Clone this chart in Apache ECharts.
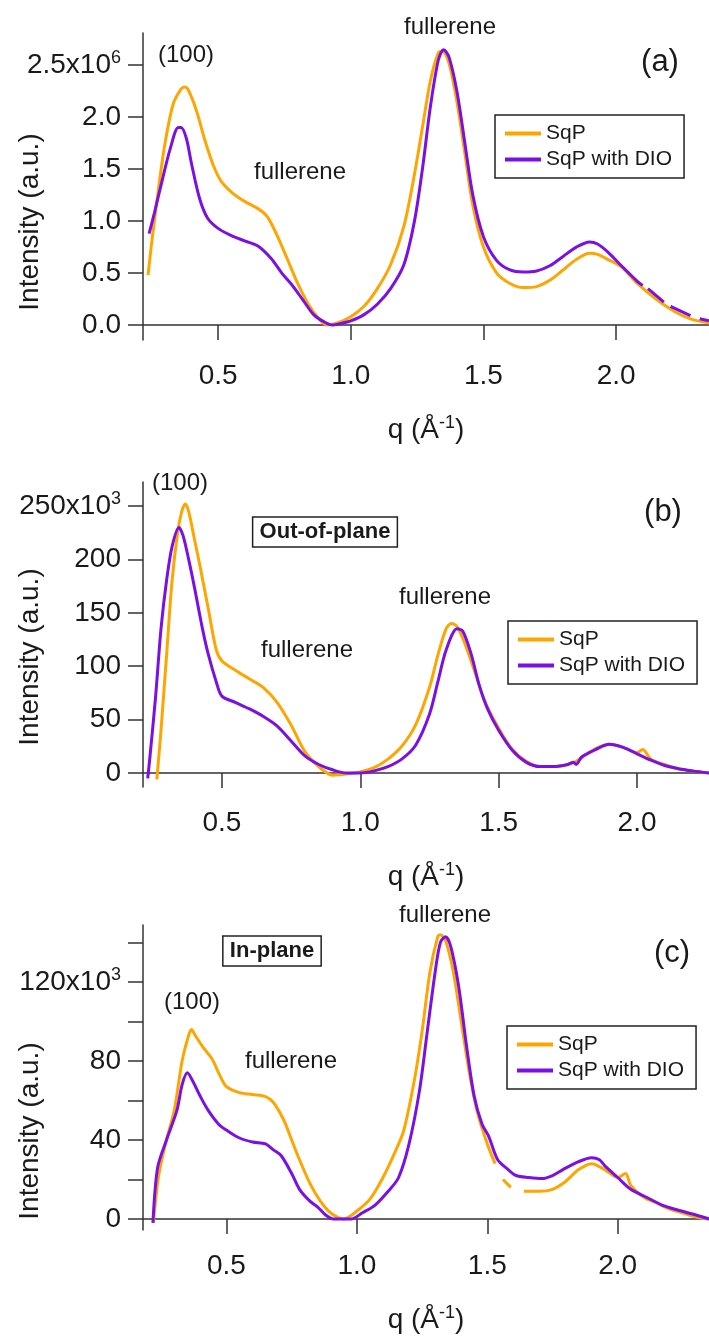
<!DOCTYPE html>
<html>
<head>
<meta charset="utf-8">
<script src="https://cdn.jsdelivr.net/npm/echarts@6/dist/echarts.min.js"></script>
<style>html,body{margin:0;padding:0;background:#fff}#c{width:709px;height:1336px}</style>
</head>
<body>
<div id="c"></div>
<script>
// ---------- DATA ----------
const seriesNames = ['SqP', 'SqP with DIO'];
const xTicks = [0.5, 1.0, 1.5, 2.0];

// Panel (a)  intensity in 10^6 (null = gap in the measured trace)
const qA_sqp = [0.236,0.25,0.28,0.30,0.33,0.36,0.375,0.39,0.42,0.45,0.48,0.51,0.55,0.60,0.65,0.68,0.70,0.73,0.76,0.80,0.84,0.88,0.91,0.95,1.00,1.05,1.10,1.15,1.20,1.24,1.27,1.30,1.33,1.345,1.37,1.40,1.43,1.46,1.50,1.55,1.60,1.65,1.70,1.75,1.80,1.85,1.90,1.93,1.97,2.02,2.08,2.15,2.22,2.28,2.35];
const iA_sqp = [0.48,0.80,1.40,1.75,2.12,2.27,2.29,2.25,2.05,1.78,1.55,1.39,1.28,1.19,1.12,1.06,0.98,0.82,0.64,0.40,0.20,0.06,0.00,0.02,0.08,0.18,0.35,0.58,0.95,1.45,1.90,2.35,2.62,2.64,2.52,2.15,1.65,1.15,0.75,0.50,0.40,0.36,0.37,0.43,0.53,0.63,0.69,0.68,0.63,0.56,0.40,0.25,0.13,0.06,0.02];
const qA_dio = [0.24,0.26,0.29,0.32,0.35,0.36,0.38,0.40,0.43,0.46,0.50,0.55,0.60,0.65,0.70,0.74,0.78,0.82,0.86,0.90,0.93,0.97,1.00,1.05,1.10,1.15,1.20,1.24,1.27,1.30,1.33,1.35,1.37,1.40,1.43,1.46,1.50,1.55,1.60,1.65,1.70,1.75,1.80,1.85,1.90,1.93,1.97,2.02,2.08,2.10,2.105,2.12,2.18,2.19,2.205,2.28,2.295,2.315,2.35];
const iA_dio = [0.88,1.08,1.40,1.70,1.90,1.90,1.80,1.55,1.22,1.03,0.93,0.86,0.81,0.76,0.64,0.50,0.38,0.24,0.10,0.03,0.00,0.02,0.04,0.10,0.20,0.35,0.58,1.00,1.50,2.10,2.55,2.65,2.58,2.25,1.75,1.25,0.85,0.62,0.53,0.51,0.52,0.57,0.66,0.75,0.80,0.78,0.70,0.57,0.42,0.38,null,0.35,0.22,null,0.18,0.09,null,0.06,0.04];
const yTicksA = [0, 0.5, 1.0, 1.5, 2.0, 2.5];

// Panel (b) Out-of-plane, intensity in 10^3
const qB_sqp = [0.265,0.28,0.30,0.32,0.34,0.355,0.368,0.38,0.40,0.42,0.45,0.48,0.50,0.55,0.60,0.65,0.70,0.75,0.80,0.85,0.90,0.95,1.00,1.05,1.10,1.15,1.20,1.25,1.28,1.31,1.33,1.35,1.38,1.42,1.45,1.50,1.55,1.60,1.65,1.70,1.75,1.78,1.82,1.86,1.90,1.95,2.00,2.02,2.05,2.10,2.15,2.20,2.26];
const iB_sqp = [-6,40,110,180,225,245,252,245,220,195,155,115,105,96,88,80,66,45,20,6,-2,-1,1,5,13,25,45,80,110,135,140,137,120,90,67,42,22,11,6,6,8,11,18,24,27,24,19,22,13,8,4,2,0];
const qB_dio = [0.232,0.24,0.26,0.28,0.30,0.32,0.345,0.36,0.38,0.40,0.43,0.45,0.48,0.50,0.55,0.60,0.65,0.70,0.75,0.80,0.85,0.90,0.95,1.00,1.05,1.10,1.15,1.20,1.25,1.28,1.31,1.35,1.37,1.40,1.43,1.46,1.50,1.55,1.60,1.65,1.70,1.75,1.77,1.78,1.80,1.85,1.90,1.95,2.00,2.05,2.10,2.15,2.20,2.26];
const iB_dio = [-5,15,70,135,180,212,230,222,200,175,135,112,85,72,66,60,53,44,30,16,8,3,0,0,2,6,13,26,55,85,115,135,133,112,82,60,40,21,10,6,6,8,10,8,15,22,27,24,18,12,7,4,2,0];
const yTicksB = [0, 50, 100, 150, 200, 250];

// Panel (c) In-plane, intensity in 10^3 (null = gap in the measured trace)
const qC_sqp = [0.22,0.24,0.27,0.30,0.33,0.355,0.366,0.38,0.41,0.445,0.47,0.50,0.55,0.60,0.65,0.68,0.72,0.75,0.78,0.82,0.86,0.90,0.95,1.00,1.05,1.10,1.15,1.18,1.22,1.25,1.28,1.31,1.32,1.34,1.37,1.40,1.43,1.46,1.50,1.53,1.545,1.56,1.59,1.615,1.64,1.70,1.75,1.80,1.85,1.90,1.95,2.00,2.03,2.05,2.10,2.15,2.20,2.25,2.30,2.35];
const iC_sqp = [-2,22,40,55,80,93,96,93,87,81,74,67,64,63,62,59,50,40,30,18,9,3,0,4,10,21,35,45,70,95,125,143,144,141,125,100,75,55,38,28,null,20,16,null,14,14,15,19,25,28,25,21,23,17,11,8,5,3,1,0];
const qC_dio = [0.218,0.236,0.27,0.31,0.33,0.35,0.37,0.40,0.43,0.47,0.50,0.55,0.60,0.65,0.68,0.71,0.75,0.78,0.82,0.85,0.88,0.91,0.95,0.98,1.02,1.07,1.12,1.16,1.20,1.24,1.27,1.30,1.32,1.34,1.36,1.39,1.42,1.45,1.48,1.505,1.54,1.58,1.61,1.66,1.71,1.75,1.79,1.85,1.90,1.93,1.95,2.00,2.05,2.11,2.17,2.23,2.30,2.35];
const iC_dio = [-2,26,40,55,68,74,70,62,55,48,45,41,39,38,35,32,23,15,9,6,2,0,0,0,3,7,14,21,38,65,95,125,140,143,138,118,88,62,48,42,30,25,22,21,20.5,22,25,29,31,30,27,21,15,11,7,4.5,2,0];
const yTicksC = [0, 20, 40, 60, 80, 100, 120, 140];
const yLabelsC = [0, 40, 80, 120];

// ---------- CHART ----------
const FONT = '"Liberation Sans", Arial, Helvetica, sans-serif';
const TXT = '#1a1a1a';
const AX = '#333';
const ORANGE = '#FFA500';
const PURPLE = '#7A10E6';
const pairs = (q, v) => q.map((x, i) => [x, v[i]]);

const grids = [
  {left: 143, top: 33, width: 566, height: 307},
  {left: 143, top: 482, width: 566, height: 305},
  {left: 143, top: 925, width: 566, height: 305}
];
const xRanges = [[0.217, 2.35], [0.215, 2.26], [0.18, 2.35]];
const yRanges = [[-0.144, 2.81], [-13.1, 272.5], [-5.6, 148.9]];
const supRich = {sup: {fontSize: 18, fontFamily: FONT, color: TXT, padding: [0, 0, 14, 0]}};

const xAxes = grids.map((g, i) => ({
  type: 'value', gridIndex: i, min: xRanges[i][0], max: xRanges[i][1],
  splitLine: {show: false},
  axisLine: {lineStyle: {color: AX, width: 1.5}},
  axisTick: {length: 15, customValues: xTicks, lineStyle: {color: AX, width: 1.5}},
  axisLabel: {customValues: xTicks, formatter: v => v.toFixed(1), fontSize: 28, fontFamily: FONT, color: TXT, margin: 22},
  name: 'q (Å{sup|-1})', nameLocation: 'middle', nameGap: 74,
  nameTextStyle: {fontSize: 28, fontFamily: FONT, color: TXT, rich: supRich}
}));

const yCommon = (i, ticks, labels, fmt) => ({
  type: 'value', gridIndex: i, min: yRanges[i][0], max: yRanges[i][1],
  splitLine: {show: false},
  axisLine: {show: true, lineStyle: {color: AX, width: 1.5}},
  axisTick: {show: true, length: 15, customValues: ticks, lineStyle: {color: AX, width: 1.5}},
  axisLabel: {customValues: labels, formatter: fmt, fontSize: 28, fontFamily: FONT, color: TXT, margin: 22, rich: supRich}
});
const yAxes = [
  yCommon(0, yTicksA, yTicksA, v => v === 2.5 ? '2.5x10{sup|6}' : v.toFixed(1)),
  yCommon(1, yTicksB, yTicksB, v => v === 250 ? '250x10{sup|3}' : String(v)),
  yCommon(2, yTicksC, yLabelsC, v => v === 120 ? '120x10{sup|3}' : String(v))
];

const mk = (name, idx, data, color) => ({
  name, type: 'line', xAxisIndex: idx, yAxisIndex: idx, data,
  showSymbol: false, symbol: 'none', smooth: 0.3, connectNulls: false,
  lineStyle: {color, width: 3}, itemStyle: {color}, z: name === 'SqP' ? 2 : 3
});
const series = [
  mk('SqP', 0, pairs(qA_sqp, iA_sqp), ORANGE),
  mk('SqP with DIO', 0, pairs(qA_dio, iA_dio), PURPLE),
  mk('SqP', 1, pairs(qB_sqp, iB_sqp), ORANGE),
  mk('SqP with DIO', 1, pairs(qB_dio, iB_dio), PURPLE),
  mk('SqP', 2, pairs(qC_sqp, iC_sqp), ORANGE),
  mk('SqP with DIO', 2, pairs(qC_dio, iC_dio), PURPLE)
];

const legendPos = [[495, 115], [508, 621], [507, 1026]];
const legends = legendPos.map(p => ({
  data: seriesNames, left: p[0], top: p[1], orient: 'vertical',
  icon: 'rect', itemWidth: 36, itemHeight: 4, itemGap: 5,
  borderColor: '#222', borderWidth: 1.5, padding: [8, 12, 8, 10],
  selectedMode: false,
  textStyle: {fontSize: 21, fontFamily: FONT, color: TXT}
}));

const t = (text, x, y, size, extra) => ({
  type: 'text', x, y, z: 100,
  style: Object.assign({text, fontSize: size, fontFamily: FONT, fill: TXT, align: 'center', verticalAlign: 'middle'}, extra || {})
});
const yTitle = (x, y) => ({
  type: 'text', x, y, rotation: Math.PI / 2, z: 100,
  style: {text: 'Intensity (a.u.)', fontSize: 28, fontFamily: FONT, fill: TXT, align: 'center', verticalAlign: 'middle'}
});
const box = {borderColor: '#222', borderWidth: 1.5, padding: [4, 7, 4, 7], fontWeight: 'bold'};

const graphics = [
  yTitle(30, 222), yTitle(30, 657), yTitle(30, 1131),
  // panel a
  t('(100)', 186, 55, 24), t('fullerene', 450, 27, 24), t('(a)', 660, 62, 31), t('fullerene', 300, 172, 24),
  // panel b
  t('(100)', 180, 483, 24), t('Out-of-plane', 325, 532, 22, box), t('(b)', 663, 512, 31),
  t('fullerene', 445, 597, 24), t('fullerene', 307, 650, 24),
  // panel c
  t('fullerene', 445, 915, 24), t('In-plane', 272, 951, 22, box), t('(c)', 672, 953, 31),
  t('(100)', 192, 1002, 24), t('fullerene', 291, 1061, 24)
];

const chart = echarts.init(document.getElementById('c'), null, {renderer: 'canvas'});
chart.setOption({
  animation: false,
  backgroundColor: '#fff',
  grid: grids,
  xAxis: xAxes,
  yAxis: yAxes,
  legend: legends,
  series,
  graphic: graphics
});
</script>
</body>
</html>
